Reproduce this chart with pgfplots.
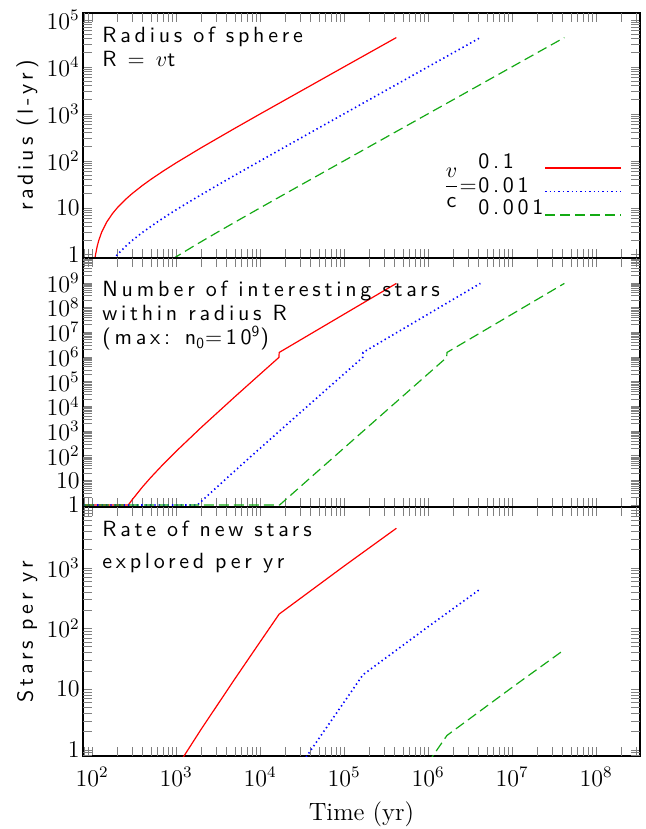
\documentclass[border=0pt]{standalone}
\usepackage{fontspec}
\usepackage{pgfplots}
\pgfplotsset{compat=1.18}
\newfontfamily\hfont{lmsans10-regular.otf}[LetterSpace=17]
\newcommand\hf{\hfont\fontsize{11}{13}\selectfont}
\definecolor{cred}{RGB}{255,0,0}
\definecolor{cblue}{RGB}{0,0,255}
\definecolor{cgreen}{RGB}{20,170,20}

\pgfplotsset{
  every axis/.append style={
    width=278.5pt, scale only axis,
    xmin=78, xmax=3.34e8,
    xtick={1e2,1e3,1e4,1e5,1e6,1e7,1e8},
    extra x ticks={80,90,200,300,400,500,600,700,800,900,2e3,3e3,4e3,5e3,6e3,7e3,8e3,9e3,2e4,3e4,4e4,5e4,6e4,7e4,8e4,9e4,2e5,3e5,4e5,5e5,6e5,7e5,8e5,9e5,2e6,3e6,4e6,5e6,6e6,7e6,8e6,9e6,2e7,3e7,4e7,5e7,6e7,7e7,8e7,9e7,2e8,3e8},
    extra x tick labels={},
    extra y tick labels={},
    axis line style={line width=1pt},
    tick label style={font=\fontsize{12}{13}\selectfont},
    yticklabel style={inner xsep=1.5pt},
    xticklabel style={yshift=-2pt},
  },
  every axis y label/.style={at={(axis description cs:-0.0898,0.5)}, anchor=base, rotate=90, font=\hf},
  legend image code/.code={\draw[#1] (0pt,0pt) -- (38pt,0pt);},
}

\begin{document}
\begin{tikzpicture}
% radius
\begin{loglogaxis}[name=p1, at={(0,0)}, anchor=north west, height=122.5pt,
  ymin=0.85, ymax=1.4e5,
  ytick={1,10,100,1000,10000,100000},
  extra y ticks={0.9,2,3,4,5,6,7,8,9,20,30,40,50,60,70,80,90,200,300,400,500,600,700,800,900,2e3,3e3,4e3,5e3,6e3,7e3,8e3,9e3,2e4,3e4,4e4,5e4,6e4,7e4,8e4,9e4},
  yticklabels={$1$,$10$,$10^2$,$10^3$,$10^4$,$10^5$},
  xticklabels={},
  ylabel={radius (l-yr)},
  legend style={draw=none, fill=none, at={(axis description cs:0.817,0.433)}, anchor=north west,
    font=\hf, nodes={inner sep=0pt, text height=8pt, text depth=3.75pt},
    /tikz/column sep=0pt, /tikz/row sep=0pt},
]
\addplot[cred, line width=0.6pt, mark=none] coordinates {(108,0.8) (110,1) (115,1.5) (120,2) (130,3) (150,5) (175,7.5) (200,10) (250,15) (300,20) (400,30) (500,40) (700,60) (1000,90) (2000,190) (5000,490) (10000,990) (100000,9990) (420000,41990)};
\addlegendentry{}
\addplot[cblue, line width=0.8pt, dash pattern=on 0.7pt off 1.5pt, mark=none] coordinates {(180,0.8) (200,1) (250,1.5) (300,2) (400,3) (600,5) (850,7.5) (1100,10) (1600,15) (2100,20) (3100,30) (4100,40) (6100,60) (9100,90) (19100,190) (49100,490) (99100,990) (999100,9990) (4200000,41999)};
\addlegendentry{}
\addplot[cgreen, line width=0.6pt, dash pattern=on 5pt off 2.5pt, mark=none] coordinates {(900,0.8) (1100,1) (1600,1.5) (2100,2) (3100,3) (5100,5) (7600,7.5) (10100,10) (15100,15) (20100,20) (30100,30) (40100,40) (60100,60) (90100,90) (190100,190) (490100,490) (990100,990) (9990100,9990) (42000000,41999.9)};
\addlegendentry{}
\node[anchor=base west, inner sep=0pt, font=\hf] at (axis description cs:0.0341,0.878) {Radius of sphere};
\node[anchor=base west, inner sep=0pt, font=\hf] at (axis description cs:0.0341,0.780) {R = $v$t};
\node[anchor=base west, inner sep=0pt, font=\hf] at (axis description cs:0.709,0.367) {0.1};
\node[anchor=base west, inner sep=0pt, font=\hf] at (axis description cs:0.709,0.269) {0.01};
\node[anchor=base west, inner sep=0pt, font=\hf] at (axis description cs:0.709,0.176) {0.001};
\node[anchor=base east, inner sep=0pt, font=\hf] at (axis description cs:0.7075,0.269) {$\displaystyle\frac{v}{\mbox{\hf c}}$=};
\end{loglogaxis}

% number of stars
\begin{loglogaxis}[name=p2, at={(0,-122.5pt)}, anchor=north west, height=124.5pt,
  ymin=0.83, ymax=1e10,
  ytick={1,10,100,1000,1e4,1e5,1e6,1e7,1e8,1e9},
  extra y ticks={0.9,2,3,4,5,6,7,8,9,20,30,40,50,60,70,80,90,200,300,400,500,600,700,800,900,2e3,3e3,4e3,5e3,6e3,7e3,8e3,9e3,2e4,3e4,4e4,5e4,6e4,7e4,8e4,9e4,2e5,3e5,4e5,5e5,6e5,7e5,8e5,9e5,2e6,3e6,4e6,5e6,6e6,7e6,8e6,9e6,2e7,3e7,4e7,5e7,6e7,7e7,8e7,9e7,2e8,3e8,4e8,5e8,6e8,7e8,8e8,9e8,2e9,3e9,4e9,5e9,6e9,7e9,8e9,9e9},
  yticklabels={$1$,$10$,$10^2$,$10^3$,$10^4$,$10^5$,$10^6$,$10^7$,$10^8$,$10^9$},
  xticklabels={},
]
\addplot[cred, line width=0.6pt, mark=none] coordinates {(80,1) (270,1) (300,1.628) (400,5.49) (500,13.02) (700,43.96) (1000,148.4) (2000,1396) (5000,23940) (10000,197450) (16800,9.48e5) (16850,1.2e6) (16900,1.5e6) (100000,5.30e7) (420100,9.375e8)};
\addplot[cblue, line width=0.8pt, dash pattern=on 0.7pt off 1.5pt, mark=none] coordinates {(80,1) (1800,1) (2100,1.628) (3100,5.49) (4100,13.02) (6100,43.96) (9100,148.4) (19100,1396) (49100,23940) (99100,197450) (167100,9.48e5) (167600,1.2e6) (168100,1.5e6) (999100,5.30e7) (4200100,9.375e8)};
\addplot[cgreen, line width=0.6pt, dash pattern=on 5pt off 2.5pt, mark=none] coordinates {(80,1) (17100,1) (20100,1.628) (30100,5.49) (40100,13.02) (60100,43.96) (90100,148.4) (190100,1396) (490100,23940) (990100,197450) (1670100,9.48e5) (1675100,1.2e6) (1680100,1.5e6) (9990100,5.30e7) (42000100,9.375e8)};
\node[anchor=base west, inner sep=0pt, font=\hf] at (axis description cs:0.0341,0.847) {Number of interesting stars};
\node[anchor=base west, inner sep=0pt, font=\hf] at (axis description cs:0.0341,0.751) {within radius R};
\node[anchor=base west, inner sep=0pt, font=\hf] at (axis description cs:0.0341,0.651) {(max: n\textsubscript{0}=10\textsuperscript{9})};
\end{loglogaxis}

% rate
\begin{loglogaxis}[name=p3, at={(0,-247pt)}, anchor=north west, height=124.5pt,
  ymin=0.79, ymax=1e4,
  ytick={1,10,100,1000},
  extra y ticks={0.8,0.9,2,3,4,5,6,7,8,9,20,30,40,50,60,70,80,90,200,300,400,500,600,700,800,900,2e3,3e3,4e3,5e3,6e3,7e3,8e3,9e3},
  yticklabels={$1$,$10$,$10^2$,$10^3$},
  xticklabels={$10^2$,$10^3$,$10^4$,$10^5$,$10^6$,$10^7$,$10^8$},
  xlabel={Time (yr)},
  xlabel style={at={(axis description cs:0.5,-0.257)}, anchor=base, font=\fontsize{12.5}{14}\selectfont},
  ylabel={Stars per yr},
]
\addplot[cred, line width=0.6pt, mark=none] coordinates {(700,0.22) (1000,0.494) (2000,2.204) (5000,14.66) (10000,59.83) (16900,172.3) (100000,1062) (420100,4465)};
\addplot[cblue, line width=0.8pt, dash pattern=on 0.7pt off 1.5pt, mark=none] coordinates {(19100,0.22) (30100,0.549) (49100,1.466) (99100,5.983) (168100,17.23) (999100,106.2) (4200100,446.5)};
\addplot[cgreen, line width=0.6pt, dash pattern=on 5pt off 2.5pt, mark=none] coordinates {(990100,0.598) (1680100,1.723) (9990100,10.62) (42000100,44.65)};
\node[anchor=base west, inner sep=0pt, font=\hf] at (axis description cs:0.0341,0.880) {Rate of new stars};
\node[anchor=base west, inner sep=0pt, font=\hf] at (axis description cs:0.0341,0.755) {explored per yr};
\end{loglogaxis}

\pgfresetboundingbox
\useasboundingbox (-41.5pt,6.5pt) rectangle (281pt,-408pt);
\end{tikzpicture}
\end{document}
